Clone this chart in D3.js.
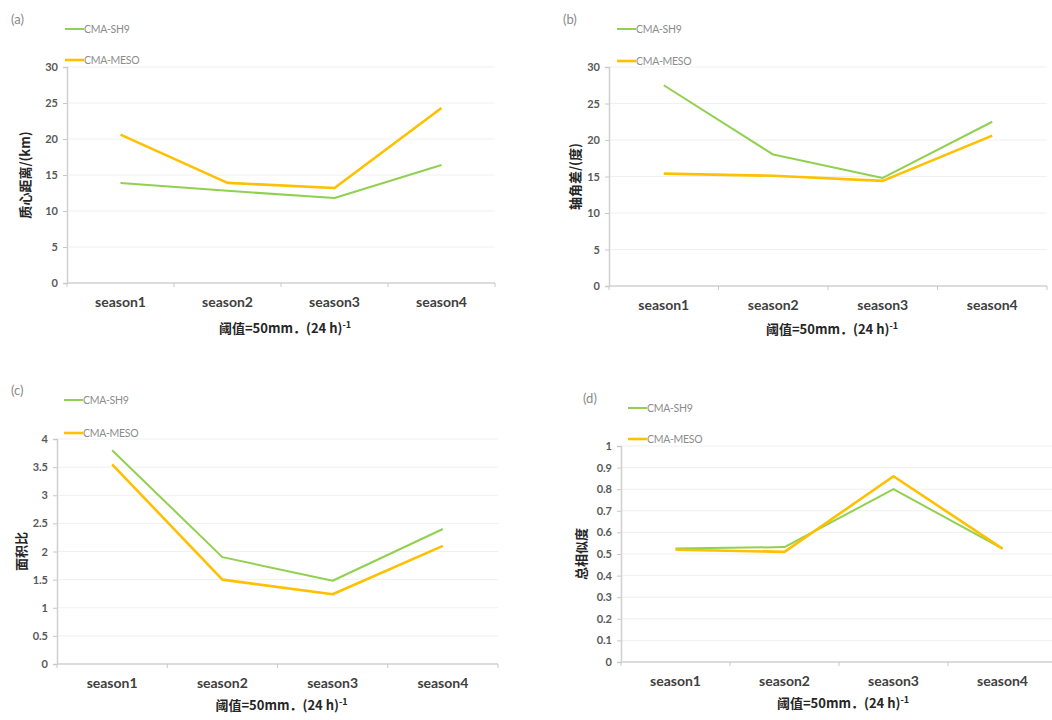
<!DOCTYPE html>
<html>
<head>
<meta charset="utf-8">
<script src="https://cdn.jsdelivr.net/npm/d3@7"></script>
<style>
  html, body { margin: 0; padding: 0; background: #fff; }
  svg { display: block; font-family: Lato, "Noto Sans CJK SC", sans-serif; }
</style>
</head>
<body>
<svg id="chart" width="1052" height="720"></svg>
<script>
// Categories and series
const seasons = ["season1", "season2", "season3", "season4"];
const seriesNames = ["CMA-SH9", "CMA-MESO"];

// (a) centroid distance, km
const sh9Distance  = [13.9, 12.8, 11.8, 16.4];
const mesoDistance = [20.6, 13.9, 13.2, 24.3];
// (b) axis angle difference, degrees
const sh9Angle  = [27.5, 18.0, 14.8, 22.5];
const mesoAngle = [15.4, 15.1, 14.4, 20.6];
// (c) area ratio
const sh9Area  = [3.8, 1.9, 1.48, 2.4];
const mesoArea = [3.55, 1.5, 1.24, 2.1];
// (d) total similarity
const sh9Similarity  = [0.525, 0.532, 0.80, 0.525];
const mesoSimilarity = [0.52, 0.51, 0.86, 0.525];

// Tick values
const ticksDistance   = [0, 5, 10, 15, 20, 25, 30];
const ticksAngle      = [0, 5, 10, 15, 20, 25, 30];
const ticksArea       = [0, 0.5, 1, 1.5, 2, 2.5, 3, 3.5, 4];
const ticksSimilarity = [0, 0.1, 0.2, 0.3, 0.4, 0.5, 0.6, 0.7, 0.8, 0.9, 1];

// Titles
const panelLabels = ["(a)", "(b)", "(c)", "(d)"];
const yTitles = ["质心距离/(km)", "轴角差/(度)", "面积比", "总相似度"];
const xTitleMain = "阈值=50mm．(24 h)";
const xTitleSup = "-1";

const colors = { "CMA-SH9": "#92d050", "CMA-MESO": "#ffc000" };
const widths = { "CMA-SH9": 2, "CMA-MESO": 2.6 };

const panels = [
  { label: panelLabels[0], yTitle: yTitles[0], sh9: sh9Distance, meso: mesoDistance, ticks: ticksDistance,
    left: 67, right: 495, top: 67, bottom: 283, lx: 11, ly: 20, legX: 65, legY: [29, 60], yTitleX: 26, xTitleY: 333 },
  { label: panelLabels[1], yTitle: yTitles[1], sh9: sh9Angle, meso: mesoAngle, ticks: ticksAngle,
    left: 609, right: 1047, top: 67, bottom: 286, lx: 563, ly: 20, legX: 617, legY: [29, 61], yTitleX: 576, xTitleY: 334 },
  { label: panelLabels[2], yTitle: yTitles[2], sh9: sh9Area, meso: mesoArea, ticks: ticksArea,
    left: 57, right: 498, top: 439, bottom: 664, lx: 11, ly: 391, legX: 64, legY: [400, 433], yTitleX: 22, xTitleY: 710 },
  { label: panelLabels[3], yTitle: yTitles[3], sh9: sh9Similarity, meso: mesoSimilarity, ticks: ticksSimilarity,
    left: 621, right: 1057, top: 446, bottom: 662, lx: 583, ly: 399, legX: 628, legY: [408, 439], yTitleX: 582, xTitleY: 708 }
];

const svg = d3.select("#chart");

panels.forEach(p => {
  const g = svg.append("g");
  const x = d3.scaleBand().domain(seasons).range([p.left, p.right]);
  const yMax = p.ticks[p.ticks.length - 1];
  const y = d3.scaleLinear().domain([0, yMax]).range([p.bottom, p.top]);

  // gridlines
  g.append("g")
    .selectAll("line")
    .data(p.ticks.filter(t => t > 0))
    .join("line")
    .attr("x1", p.left).attr("x2", p.right)
    .attr("y1", d => y(d)).attr("y2", d => y(d))
    .attr("stroke", "#f0f0f0").attr("stroke-width", 1);

  // y axis
  const yAxis = g.append("g")
    .attr("transform", `translate(${p.left},0)`)
    .call(d3.axisLeft(y).tickValues(p.ticks).tickSize(4).tickPadding(5).tickFormat(d3.format("")));
  yAxis.select(".domain").attr("stroke", "#d0d0d0").attr("stroke-width", 1.5);
  yAxis.selectAll(".tick line").attr("stroke", "#c8c8c8");
  yAxis.selectAll(".tick text")
    .attr("fill", "#595959").attr("font-size", 11).attr("font-weight", 700)
    .attr("font-family", "Lato, sans-serif");

  // x axis with boundary ticks between categories
  const xAxis = g.append("g").attr("transform", `translate(0,${p.bottom})`);
  xAxis.append("line")
    .attr("x1", p.left).attr("x2", p.right)
    .attr("stroke", "#d0d0d0").attr("stroke-width", 1.5);
  const boundaries = seasons.map(s => x(s)).concat([x.range()[1]]);
  xAxis.selectAll("line.b")
    .data(boundaries)
    .join("line").attr("class", "b")
    .attr("x1", d => d).attr("x2", d => d)
    .attr("y1", 0).attr("y2", 4)
    .attr("stroke", "#c8c8c8");
  xAxis.selectAll("text")
    .data(seasons)
    .join("text")
    .attr("x", d => x(d) + x.bandwidth() / 2)
    .attr("y", 24)
    .attr("text-anchor", "middle")
    .attr("fill", "#404040").attr("font-size", 14).attr("font-weight", 700)
    .text(d => d);

  // series lines
  const line = d3.line()
    .x((d, i) => x(seasons[i]) + x.bandwidth() / 2)
    .y(d => y(d));
  [["CMA-SH9", p.sh9], ["CMA-MESO", p.meso]].forEach(([name, vals]) => {
    g.append("path")
      .datum(vals)
      .attr("d", line)
      .attr("fill", "none")
      .attr("stroke", colors[name])
      .attr("stroke-width", widths[name])
      .attr("stroke-linejoin", "round");
  });

  // panel label
  g.append("text")
    .attr("x", p.lx).attr("y", p.ly + 4)
    .attr("fill", "#8a8a8a").attr("font-size", 13)
    .text(p.label);

  // legend
  seriesNames.forEach((name, i) => {
    const ly = p.legY[i];
    g.append("line")
      .attr("x1", p.legX).attr("x2", p.legX + 19)
      .attr("y1", ly).attr("y2", ly)
      .attr("stroke", colors[name]).attr("stroke-width", widths[name]);
    g.append("text")
      .attr("x", p.legX + 19).attr("y", ly + 4)
      .attr("fill", "#8c8c8c").attr("font-size", 10.5)
      .attr("letter-spacing", -0.3)
      .text(name);
  });

  // y title
  g.append("text")
    .attr("transform", `translate(${p.yTitleX},${(p.top + p.bottom) / 2}) rotate(-90)`)
    .attr("text-anchor", "middle")
    .attr("dominant-baseline", "middle")
    .attr("fill", "#262626").attr("font-size", 13).attr("font-weight", 700)
    .attr("font-family", "'Noto Sans CJK SC', Lato, sans-serif")
    .text(p.yTitle);

  // x title
  const xt = g.append("text")
    .attr("x", (p.left + p.right) / 2 + 4).attr("y", p.xTitleY)
    .attr("text-anchor", "middle")
    .attr("fill", "#262626").attr("font-size", 13).attr("font-weight", 700)
    .attr("font-family", "'Noto Sans CJK SC', Lato, sans-serif");
  xt.append("tspan").text(xTitleMain);
  xt.append("tspan").attr("dy", -5).attr("font-size", 9).text(xTitleSup);
});
</script>
</body>
</html>
